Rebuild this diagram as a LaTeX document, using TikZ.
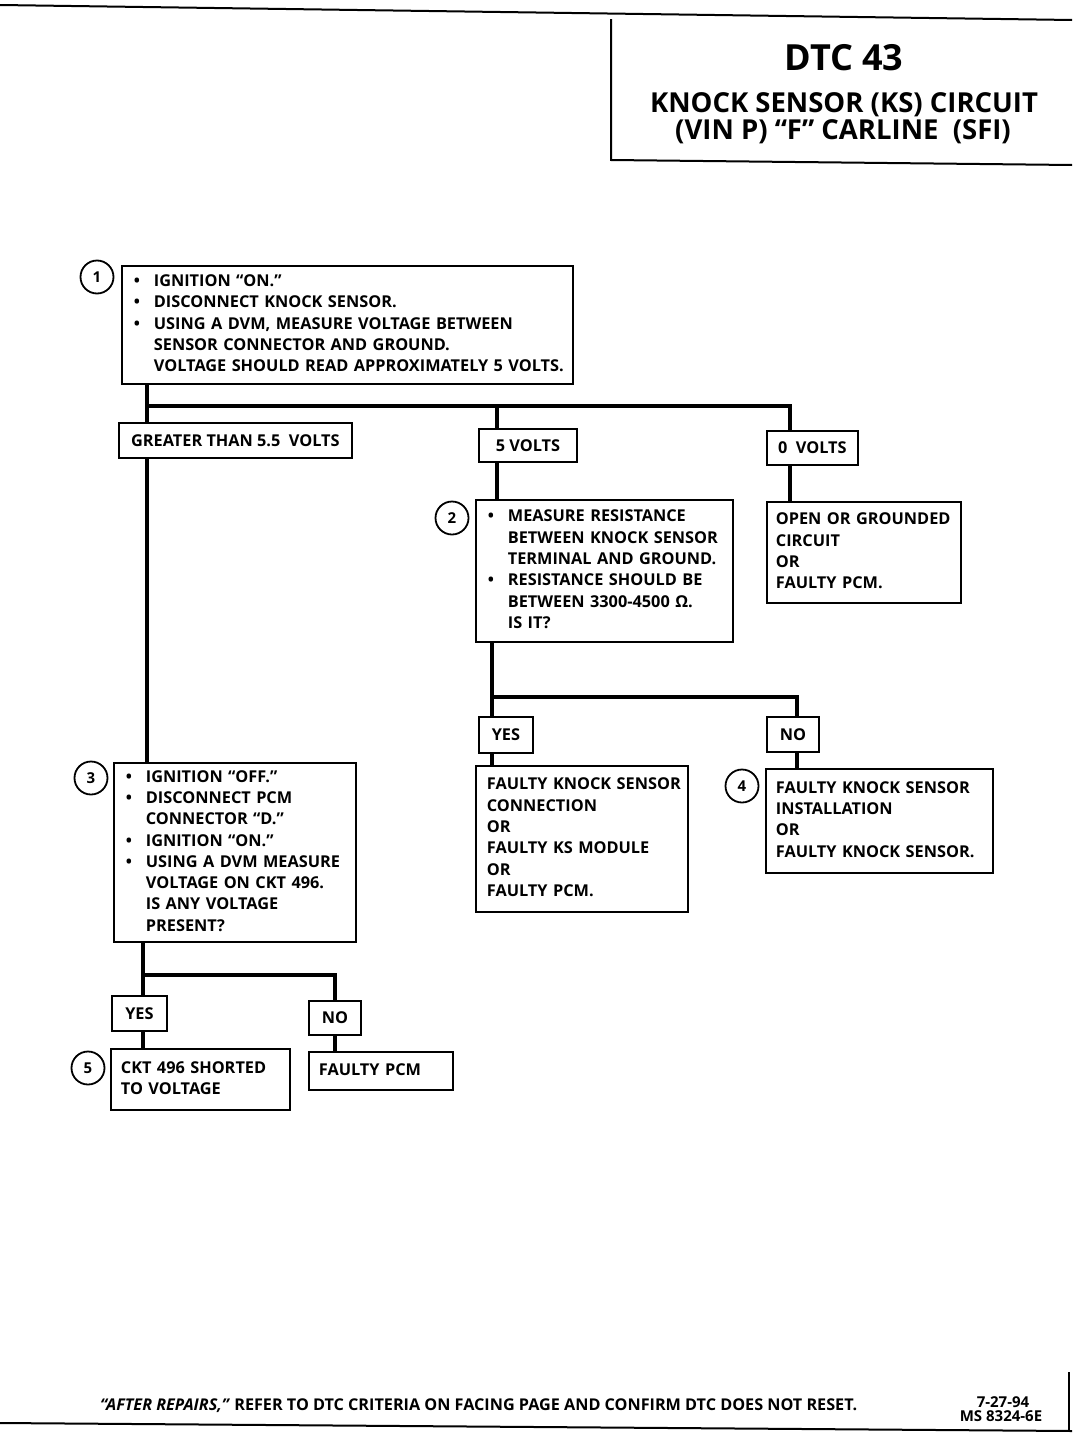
\documentclass[tikz,border=0pt]{standalone}
\usepackage{fontspec}
\setmainfont{Open Sans}
\newcommand\bul{\makebox[20pt][l]{\textbullet}}
\newcommand\ind{\hspace*{20pt}}
\newcommand\lines[1]{\begin{tabular}{@{}l@{}}#1\end{tabular}}
\begin{document}
\begin{tikzpicture}[x=1pt,y=-1pt,
  every node/.style={font=\bfseries\fontsize{16.3}{21.3}\selectfont, text=black},
  box/.style={draw, line width=1.8pt, anchor=north west, inner ysep=0pt, align=left},
  lab/.style={draw, line width=1.8pt, anchor=north west, inner sep=0pt, align=center},
  num/.style={circle, draw, line width=1.8pt, minimum size=33pt, inner sep=0pt, font=\bfseries\fontsize{15}{15}\selectfont},
  conn/.style={line width=4pt},
  rule/.style={line width=2pt}]
\useasboundingbox (0,0) rectangle (1072,1440);

% frame and title box
\draw[rule] (0,5) -- (1072,20);
\draw[rule] (611,19) -- (611,160) -- (1072,165);
\draw[rule] (0,1423) -- (1072,1431);
\draw[rule] (1069,1372) -- (1069,1431);

\node[font=\bfseries\fontsize{36}{36}\selectfont] (t1) at (844,58) {DTC 43};
\node[font=\bfseries\fontsize{27.5}{27.5}\selectfont] (t2) at (844,105) {KNOCK SENSOR (KS) CIRCUIT};
\node[font=\bfseries\fontsize{27.5}{27.5}\selectfont] (t3) at (843,132) {(VIN P) “F” CARLINE\ \ (SFI)};

% step 1
\node[box, minimum width=451pt, minimum height=118pt, inner xsep=12pt, text width=427pt] (b1) at (121,265)
 {\lines{\bul IGNITION “ON.”\\
 \bul DISCONNECT KNOCK SENSOR.\\
 \bul USING A DVM, MEASURE VOLTAGE BETWEEN\\
 \ind SENSOR CONNECTOR AND GROUND.\\
 \ind VOLTAGE SHOULD READ APPROXIMATELY 5 VOLTS.}};
\node[num] (c1) at (97,277) {1};

\node[lab, minimum width=233pt, minimum height=35pt, fill=white] (gt) at (118,422) {GREATER THAN 5.5\ \ VOLTS};
\node[lab, minimum width=98pt, minimum height=33pt] (fv) at (478,428) {5 VOLTS};
\node[lab, minimum width=91pt, minimum height=34pt] (zv) at (766,430) {0\ \ VOLTS};

% step 2
\node[box, minimum width=257pt, minimum height=142pt, inner xsep=12pt, text width=233pt] (b2) at (475,499)
 {\lines{\bul MEASURE RESISTANCE\\
 \ind BETWEEN KNOCK SENSOR\\
 \ind TERMINAL AND GROUND.\\
 \bul RESISTANCE SHOULD BE\\
 \ind BETWEEN 3300-4500 Ω.\\
 \ind IS IT?}};
\node[num] (c2) at (452,518) {2};

\node[box, minimum width=194pt, minimum height=101pt, inner xsep=9pt, text width=176pt] (ob) at (766,501)
 {\lines{OPEN OR GROUNDED\\ CIRCUIT\\ OR\\ FAULTY PCM.}};

\node[lab, minimum width=54pt, minimum height=36pt] (y2) at (478,716) {YES};
\node[lab, minimum width=52pt, minimum height=35pt] (n2) at (766,716) {NO};

\node[box, minimum width=212pt, minimum height=146pt, inner xsep=11pt, text width=190pt] (fy) at (475,765)
 {\lines{FAULTY KNOCK SENSOR\\ CONNECTION\\ OR\\ FAULTY KS MODULE\\ OR\\ FAULTY PCM.}};

\node[box, minimum width=227pt, minimum height=104pt, inner xsep=10pt, text width=207pt] (b4) at (765,768)
 {\lines{FAULTY KNOCK SENSOR\\ INSTALLATION\\ OR\\ FAULTY KNOCK SENSOR.}};
\node[num] (c4) at (742,786) {4};

% step 3
\node[box, minimum width=242pt, minimum height=179pt, inner xsep=12pt, text width=218pt] (b3) at (113,762)
 {\lines{\bul IGNITION “OFF.”\\
 \bul DISCONNECT PCM\\
 \ind CONNECTOR “D.”\\
 \bul IGNITION “ON.”\\
 \bul USING A DVM MEASURE\\
 \ind VOLTAGE ON CKT 496.\\
 \ind IS ANY VOLTAGE\\
 \ind PRESENT?}};
\node[num] (c3) at (91,778) {3};

\node[lab, minimum width=55pt, minimum height=35pt] (y3) at (111,995) {YES};
\node[lab, minimum width=52pt, minimum height=34pt] (n3) at (308,1000) {NO};

\node[box, minimum width=179pt, minimum height=61pt, inner xsep=10pt, text width=159pt] (b5) at (110,1048)
 {\lines{CKT 496 SHORTED\\ TO VOLTAGE}};
\node[num] (c5) at (88,1068) {5};

\node[box, minimum width=144pt, minimum height=38pt, inner xsep=10pt, text width=124pt] (fp) at (308,1051)
 {\lines{FAULTY PCM}};

% connectors
\coordinate (j1) at (147,406);
\coordinate (j2) at (790,406);
\coordinate (j3) at (497,406);
\draw[conn] (j1 |- b1.south) -- (j1 |- gt.north);
\draw[conn] (j1) -- (j2) -- (j2 |- zv.north);
\draw[conn] (j3) -- (j3 |- fv.north);
\draw[conn] (j1 |- gt.south) -- (j1 |- b3.north);
\draw[conn] (j3 |- fv.south) -- (j3 |- b2.north);
\draw[conn] (j2 |- zv.south) -- (j2 |- ob.north);

\coordinate (j4) at (492,697);
\coordinate (j5) at (797,697);
\draw[conn] (j4 |- b2.south) -- (j4 |- y2.north);
\draw[conn] (j4) -- (j5) -- (j5 |- n2.north);
\draw[conn] (j4 |- y2.south) -- (j4 |- fy.north);
\draw[conn] (j5 |- n2.south) -- (j5 |- b4.north);

\coordinate (j6) at (143,975);
\coordinate (j7) at (335,975);
\draw[conn] (j6 |- b3.south) -- (j6 |- y3.north);
\draw[conn] (j6) -- (j7) -- (j7 |- n3.north);
\draw[conn] (j6 |- y3.south) -- (j6 |- b5.north);
\draw[conn] (j7 |- n3.south) -- (j7 |- fp.north);

% footer
\node[anchor=base west, inner sep=0pt, font=\bfseries\fontsize{16.2}{16.2}\selectfont] (ft) at (100,1410)
 {\textit{“AFTER REPAIRS,”} REFER TO DTC CRITERIA ON FACING PAGE AND CONFIRM DTC DOES NOT RESET.};
\node[inner sep=0pt, font=\bfseries\fontsize{15}{15}\selectfont] (d1) at (1003,1402) {7-27-94};
\node[inner sep=0pt, font=\bfseries\fontsize{15}{15}\selectfont] (d2) at (1001,1416) {MS 8324-6E};
\end{tikzpicture}
\end{document}
